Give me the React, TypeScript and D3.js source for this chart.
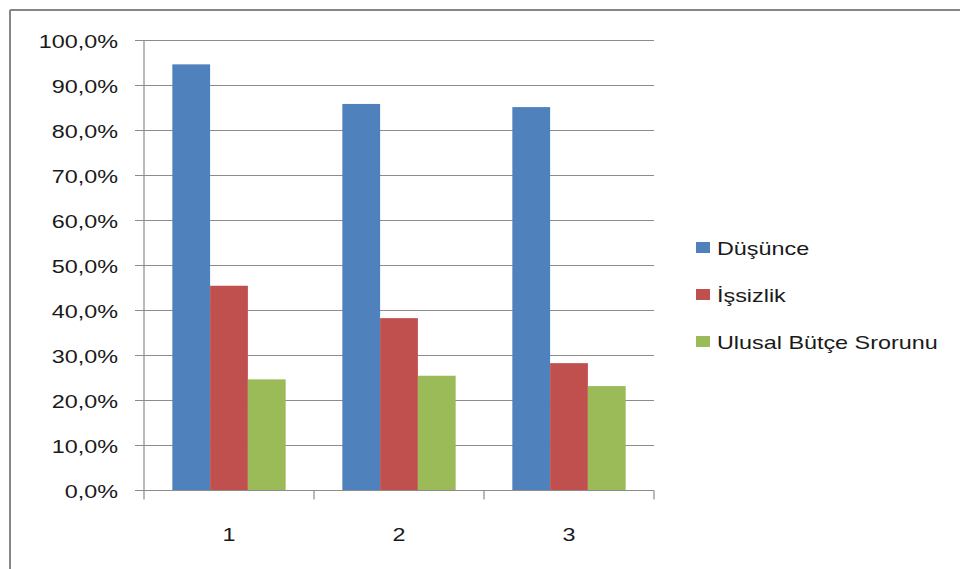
import React from "react";
import * as d3 from "d3";

const categories = ["1", "2", "3"];
const seriesNames = ["Düşünce", "İşsizlik", "Ulusal Bütçe Srorunu"];
const dusunce = [0.947, 0.859, 0.852];
const issizlik = [0.455, 0.383, 0.283];
const ulusal = [0.247, 0.255, 0.232];
const yTicks = [0, 0.1, 0.2, 0.3, 0.4, 0.5, 0.6, 0.7, 0.8, 0.9, 1.0];
const colors = ["#4F81BD", "#C0504D", "#9BBB59"];

const seriesValues = [dusunce, issizlik, ulusal];

const W = 960;
const H = 569;
const plotLeft = 144;
const plotRight = 654;
const plotTop = 40.5;
const plotBottom = 490.5;
const SX = 1.23;
const FONT = "'Liberation Sans', Arial, sans-serif";

const locale = d3.formatLocale({
  decimal: ",",
  thousands: ".",
  grouping: [3],
  currency: ["", "₺"],
});
const fmt = locale.format(".1%");

export default function App() {
  const x0 = d3.scaleBand<string>().domain(categories).range([plotLeft, plotRight]).padding(0);
  const x1 = d3
    .scaleBand<string>()
    .domain(seriesNames)
    .range([0, x0.bandwidth()])
    .paddingInner(0)
    .paddingOuter(0.75);
  const y = d3.scaleLinear().domain([0, 1]).range([plotBottom, plotTop]);

  const gridColor = "#8c8c8c";
  const textColor = "#1a1a1a";

  return (
    <svg
      width={W}
      height={H}
      style={{ position: "absolute", left: 0, top: 0, background: "#fff" }}
    >
      <rect x={0} y={0} width={W} height={H} fill="#fff" />
      {/* outer frame (top and left visible) */}
      <line x1={10} y1={10} x2={W} y2={10} stroke="#868686" strokeWidth={2} />
      <line x1={10} y1={10} x2={10} y2={H} stroke="#868686" strokeWidth={2} />

      {/* gridlines + y ticks */}
      {yTicks.map((t) => (
        <g key={t}>
          <line
            x1={plotLeft - 9}
            x2={plotRight}
            y1={y(t)}
            y2={y(t)}
            stroke={gridColor}
            strokeWidth={1.2}
          />
          <text
            transform={`translate(118, ${y(t) + 7}) scale(${SX},1)`}
            textAnchor="end"
            fontFamily={FONT}
            fontSize={19}
            fill={textColor}
          >
            {fmt(t)}
          </text>
        </g>
      ))}

      {/* bars */}
      {categories.map((c, ci) => (
        <g key={c} transform={`translate(${x0(c)},0)`}>
          {seriesNames.map((s, si) => {
            const v = seriesValues[si][ci];
            return (
              <rect
                key={s}
                x={x1(s)}
                y={y(v)}
                width={x1.bandwidth()}
                height={y(0) - y(v)}
                fill={colors[si]}
              />
            );
          })}
        </g>
      ))}

      {/* y axis line */}
      <line x1={plotLeft} x2={plotLeft} y1={plotTop} y2={plotBottom} stroke={gridColor} strokeWidth={1.2} />
      {/* x axis line */}
      <line x1={plotLeft} x2={plotRight} y1={plotBottom} y2={plotBottom} stroke={gridColor} strokeWidth={1.2} />
      {/* x ticks */}
      {[...categories.map((c) => x0(c) as number), plotRight].map((xv, i) => (
        <line key={i} x1={xv} x2={xv} y1={plotBottom} y2={plotBottom + 9} stroke={gridColor} strokeWidth={1.2} />
      ))}
      {categories.map((c) => (
        <text
          key={c}
          transform={`translate(${(x0(c) as number) + x0.bandwidth() / 2}, 541) scale(${SX},1)`}
          textAnchor="middle"
          fontFamily={FONT}
          fontSize={19}
          fill={textColor}
        >
          {c}
        </text>
      ))}

      {/* legend */}
      {seriesNames.map((s, i) => {
        const cy = 247.5 + i * 47;
        return (
          <g key={s}>
            <rect x={696} y={cy - 5.5} width={14} height={11} fill={colors[i]} />
            <text
              transform={`translate(717, ${cy + 7}) scale(${SX},1)`}
              fontFamily={FONT}
              fontSize={19}
              fill={textColor}
            >
              {s}
            </text>
          </g>
        );
      })}
    </svg>
  );
}
